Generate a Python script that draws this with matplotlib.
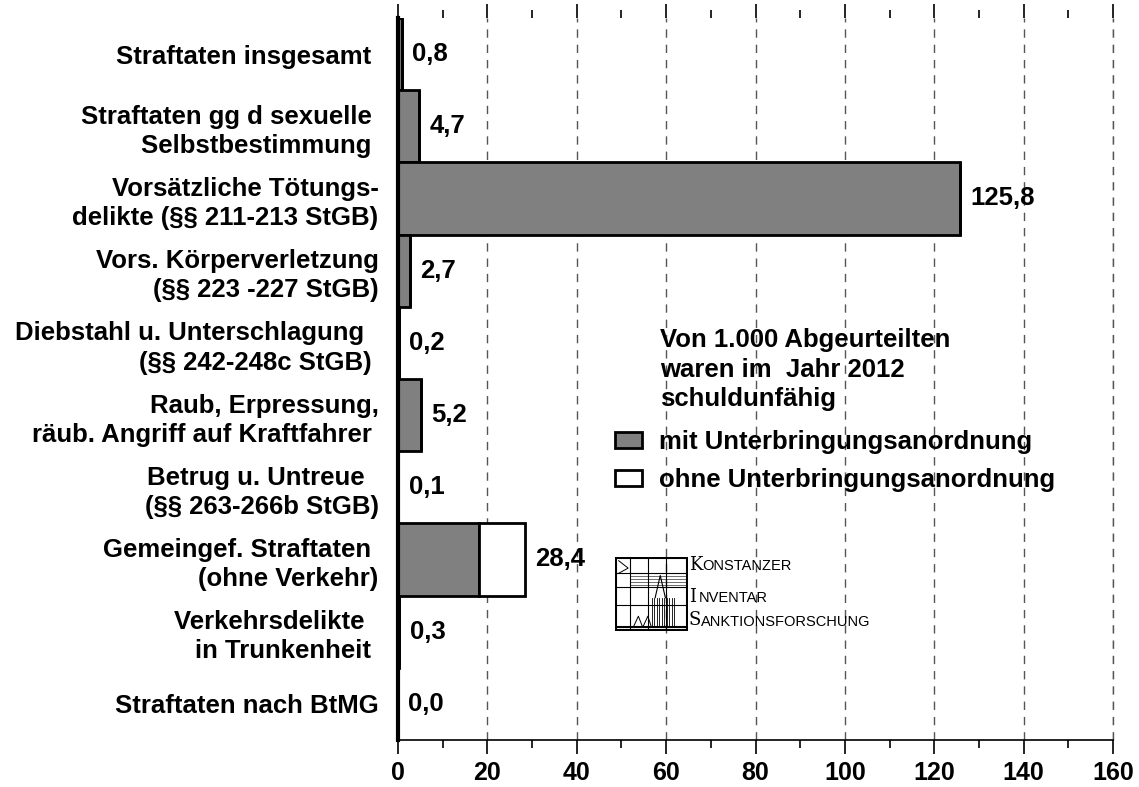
import matplotlib
matplotlib.use("Agg")
import matplotlib.pyplot as plt
import matplotlib.ticker as ticker
from matplotlib.patches import Patch, Rectangle
import numpy as np

plt.rcParams["font.family"] = ["Liberation Sans", "DejaVu Sans"]

# Data
categories = [
    "Straftaten insgesamt ",
    "Straftaten gg d sexuelle \nSelbstbestimmung ",
    "Vorsätzliche Tötungs-\ndelikte (§§ 211-213 StGB)",
    "Vors. Körperverletzung\n(§§ 223 -227 StGB)",
    "Diebstahl u. Unterschlagung  \n(§§ 242-248c StGB) ",
    "Raub, Erpressung,\nräub. Angriff auf Kraftfahrer ",
    "Betrug u. Untreue  \n(§§ 263-266b StGB)",
    "Gemeingef. Straftaten \n(ohne Verkehr)",
    "Verkehrsdelikte  \nin Trunkenheit ",
    "Straftaten nach BtMG",
]
mit_unterbringung = [0.8, 4.7, 125.8, 2.7, 0.2, 5.2, 0.1, 18.2, 0.3, 0.0]
ohne_unterbringung = [0.0, 0.0, 0.0, 0.0, 0.0, 0.0, 0.0, 10.2, 0.0, 0.0]
x_ticks = [0, 20, 40, 60, 80, 100, 120, 140, 160]

FS = 18.5
W, H = 1139, 787
fig = plt.figure(figsize=(W / 100, H / 100), dpi=100)
ax = fig.add_axes([398 / W, 1 - 740 / H, (1113 - 398) / W, (740 - 18) / H])

y = np.arange(len(categories))
grey = "#808080"
ax.barh(y, mit_unterbringung, height=1.0, color=grey, edgecolor="black", linewidth=2, zorder=3)
ax.barh(y, ohne_unterbringung, left=mit_unterbringung, height=1.0, color="white",
        edgecolor="black", linewidth=2, zorder=3)

for i, (m, o) in enumerate(zip(mit_unterbringung, ohne_unterbringung)):
    total = m + o
    ax.text(total + 2.3, i, f"{total:.1f}".replace(".", ","), va="center", ha="left",
            fontsize=FS, fontweight="bold", zorder=4)

ax.set_xlim(0, 160)
ax.set_ylim(len(categories) - 0.5, -0.5)
ax.set_xticks(x_ticks)
ax.xaxis.set_minor_locator(ticker.MultipleLocator(10))
ax.set_xticklabels([str(t) for t in x_ticks], fontsize=18, fontweight="bold")
ax.tick_params(axis="x", which="major", direction="out", length=10, width=1.2,
               top=True, bottom=True, pad=5)
ax.tick_params(axis="x", which="minor", direction="out", length=6, width=1.2,
               top=True, bottom=True)
ax.set_yticks(y)
ax.set_yticklabels(categories, fontsize=FS, fontweight="bold", linespacing=1.27)
ax.tick_params(axis="y", length=0, pad=14)

for spine in ["right", "top"]:
    ax.spines[spine].set_visible(False)
ax.spines["left"].set_linewidth(3)
ax.spines["left"].set_zorder(5)
ax.spines["bottom"].set_linewidth(1.2)
ax.grid(axis="x", which="major", linestyle=(0, (6, 5)), color="#555555", linewidth=1, zorder=0)
ax.axvline(160, linestyle=(0, (6, 5)), color="#555555", linewidth=1, zorder=0, clip_on=False)

# Legend title and entries
fig.text(660 / W, 1 - 328 / H, "Von 1.000 Abgeurteilten\nwaren im  Jahr 2012\nschuldunfähig",
         fontsize=FS, fontweight="bold", va="top", ha="left", linespacing=1.3)
handles = [Patch(facecolor=grey, edgecolor="black", linewidth=2, label="mit Unterbringungsanordnung"),
           Patch(facecolor="white", edgecolor="black", linewidth=2, label="ohne Unterbringungsanordnung")]
leg = fig.legend(handles=handles, loc="upper left", bbox_to_anchor=(615 / W, 1 - 430 / H),
                 frameon=False, prop={"size": FS, "weight": "bold"}, borderpad=0, borderaxespad=0,
                 handlelength=1.05, handleheight=0.55, handletextpad=0.65, labelspacing=0.55)

# KIS logo (rough sketch)
lax = fig.add_axes([615 / W, 1 - 631 / H, 73 / W, 74 / H])
lax.set_xlim(0, 1)
lax.set_ylim(0, 1)
lax.axis("off")
lax.add_patch(Rectangle((0.01, 0.01), 0.98, 0.98, fill=False, lw=1.5))
for xv in [0.2, 0.45, 0.7]:
    lax.plot([xv, xv], [0.01, 0.99], color="black", lw=0.8)
for yv in [0.35, 0.6, 0.78]:
    lax.plot([0.01, 0.99], [yv, yv], color="black", lw=0.8)
for yv in np.arange(0.62, 0.78, 0.04):
    lax.plot([0.2, 0.99], [yv, yv], color="black", lw=0.4)
for xv in np.arange(0.5, 0.85, 0.035):
    lax.plot([xv, xv], [0.05, 0.45], color="black", lw=0.6)
lax.plot([0.55, 0.62, 0.69], [0.45, 0.75, 0.45], color="black", lw=0.8)
lax.plot([0.25, 0.32, 0.38, 0.45, 0.5], [0.05, 0.2, 0.05, 0.2, 0.05], color="black", lw=0.7)
lax.plot([0.05, 0.18, 0.05], [0.95, 0.85, 0.78], color="black", lw=0.7)
lax.plot([0.01, 0.99], [0.05, 0.05], color="black", lw=1.5)

logo_rows = [("K", "ONSTANZER", 565, 702), ("I", "NVENTAR", 597, 699), ("S", "ANKTIONSFORSCHUNG", 620, 701)]
for first, rest, ypx, xrest in logo_rows:
    fig.text(689 / W, 1 - ypx / H, first, fontsize=13, ha="left", va="center", family="DejaVu Serif")
    fig.text(xrest / W, 1 - (ypx + 1.5) / H, rest, fontsize=10.5, ha="left", va="center")

fig.savefig("out.png", dpi=100)
